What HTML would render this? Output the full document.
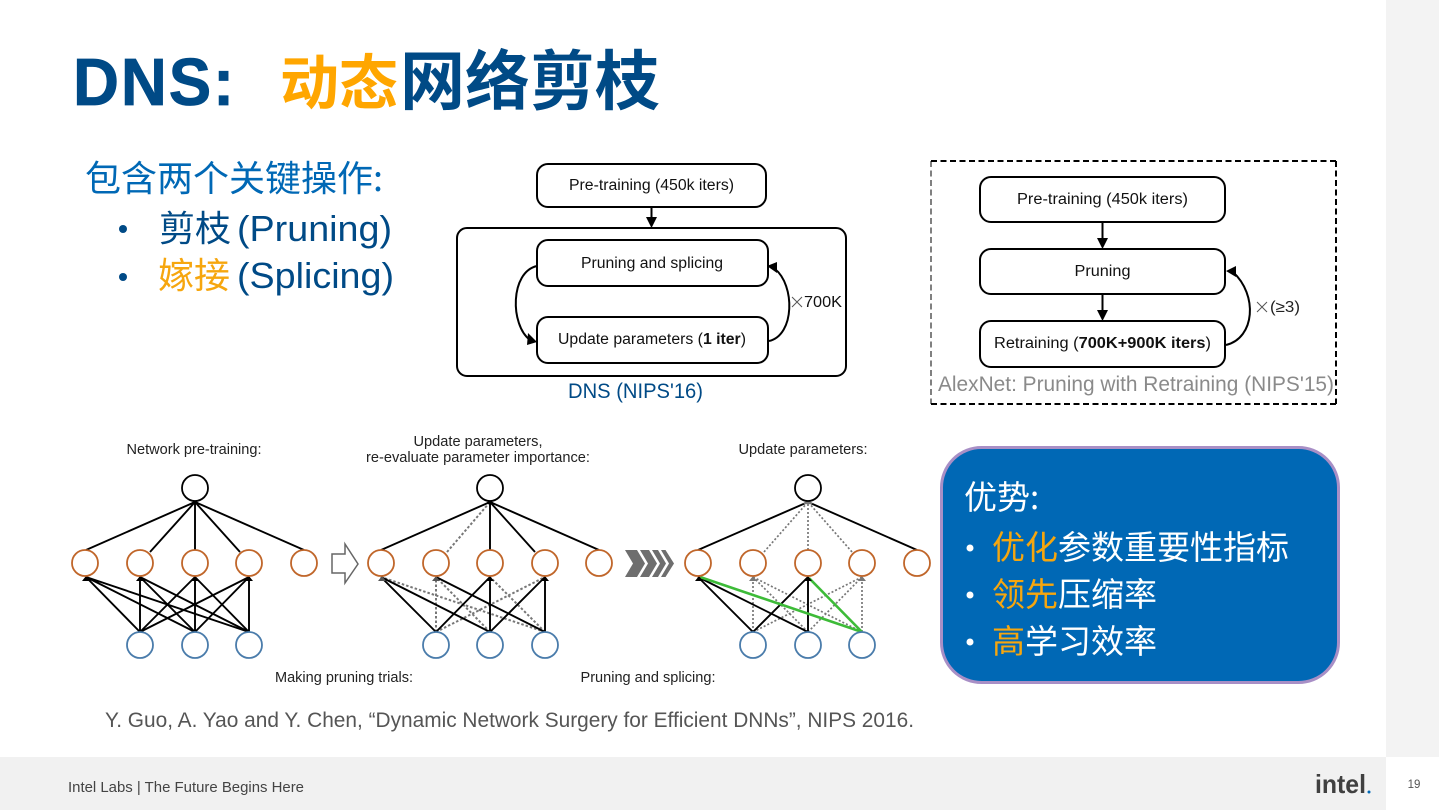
<!DOCTYPE html>
<html>
<head>
<meta charset="utf-8">
<style>
html,body{margin:0;padding:0;background:#fff;width:1440px;height:810px;overflow:hidden}
svg{display:block}
text{font-family:"Liberation Sans","Noto Sans CJK SC",sans-serif}
.cn{font-family:"Noto Sans CJK SC",sans-serif}
.d{fill:#111;font-size:15.500px}
.s{fill:#222;font-size:14.500px}
</style>
</head>
<body>
<svg width="1440" height="810" viewBox="0 0 1440 810" xmlns="http://www.w3.org/2000/svg">
<rect x="1386" y="0" width="53" height="757" fill="#f3f3f3"/>
<rect x="0" y="757" width="1386" height="53" fill="#f1f1f1"/>

<!-- Title -->
<text transform="translate(73 105) scale(.95 1)" font-size="67" font-weight="700" fill="#004a86" stroke="#004a86" stroke-width=".8" letter-spacing="2">DNS:</text>
<text x="280" y="104" font-size="59" font-weight="700" fill="#ffa600" class="cn">动态</text>
<text x="400" y="104" font-size="65" font-weight="700" fill="#004a86" class="cn">网络剪枝</text>

<!-- Left bullets -->
<text x="85" y="191" font-size="36" fill="#0068b5" class="cn">包含两个关键操作:</text>
<circle cx="123" cy="229" r="4" fill="#004a86"/>
<text x="159" y="241" font-size="36" fill="#004a86" class="cn">剪枝</text>
<text x="237" y="241" font-size="36" fill="#004a86" textLength="155" lengthAdjust="spacingAndGlyphs">(Pruning)</text>
<circle cx="123" cy="277" r="4" fill="#004a86"/>
<text x="158" y="288" font-size="36" fill="#f6a60e" class="cn">嫁接</text>
<text x="237" y="288" font-size="36" fill="#004a86" textLength="157" lengthAdjust="spacingAndGlyphs">(Splicing)</text>

<!-- DNS flow -->
<g fill="#fff" stroke="#000" stroke-width="2">
<rect x="537" y="164" width="229" height="43" rx="11"/>
<rect x="457" y="228" width="389" height="148" rx="10"/>
<rect x="537" y="240" width="231" height="46" rx="11"/>
<rect x="537" y="317" width="231" height="46" rx="11"/>
</g>
<path d="M651.500 207V219" stroke="#000" stroke-width="2"/>
<path d="M646 217H657L651.500 228z" fill="#000"/>
<path d="M537 266C510 272 510 325 530 340" fill="none" stroke="#000" stroke-width="2"/>
<path d="M528 333L537 342L527 345z" fill="#000"/>
<path d="M769 341C795 335 795 285 775 269" fill="none" stroke="#000" stroke-width="2"/>
<path d="M767 266L777 262L777 273z" fill="#000"/>
<text x="651.500" y="190" text-anchor="middle" class="d" textLength="165" lengthAdjust="spacingAndGlyphs">Pre-training (450k iters)</text>
<text x="652" y="268" text-anchor="middle" class="d" textLength="142" lengthAdjust="spacingAndGlyphs">Pruning and splicing</text>
<text x="558" y="344" class="d" textLength="188" lengthAdjust="spacingAndGlyphs">Update parameters (<tspan font-weight="700">1 iter</tspan>)</text>
<path d="M792 297L802 307M802 297L792 307" stroke="#555" stroke-width="1"/>
<text x="804" y="307" class="d" textLength="38" lengthAdjust="spacingAndGlyphs">700K</text>
<text x="568" y="398" font-size="21" fill="#004a86" textLength="135" lengthAdjust="spacingAndGlyphs">DNS (NIPS'16)</text>

<!-- AlexNet flow -->
<path d="M931 161H1336" fill="none" stroke="#000" stroke-width="2" stroke-dasharray="6 3.500"/>
<path d="M931 404H1336" fill="none" stroke="#000" stroke-width="2" stroke-dasharray="6 3.500"/>
<path d="M931 161V404" fill="none" stroke="#000" stroke-width="1" stroke-dasharray="6 3.500"/>
<path d="M1336 161V404" fill="none" stroke="#000" stroke-width="2" stroke-dasharray="6 3.500"/>
<g fill="#fff" stroke="#000" stroke-width="2">
<rect x="980" y="177" width="245" height="45" rx="11"/>
<rect x="980" y="249" width="245" height="45" rx="11"/>
<rect x="980" y="321" width="245" height="46" rx="11"/>
</g>
<path d="M1102.500 222V240M1102.500 294V312" stroke="#000" stroke-width="2"/>
<path d="M1097 238H1108L1102.500 249zM1097 310H1108L1102.500 321z" fill="#000"/>
<path d="M1226 345C1255 338 1258 295 1233 272" fill="none" stroke="#000" stroke-width="2"/>
<path d="M1226 271L1236 266L1236 277z" fill="#000"/>
<text x="1102.500" y="204" text-anchor="middle" class="d" textLength="171" lengthAdjust="spacingAndGlyphs">Pre-training (450k iters)</text>
<text x="1102.500" y="276" text-anchor="middle" class="d" textLength="56" lengthAdjust="spacingAndGlyphs">Pruning</text>
<text x="994" y="348" class="d" textLength="217" lengthAdjust="spacingAndGlyphs">Retraining (<tspan font-weight="700">700K+900K iters</tspan>)</text>
<path d="M1257 302L1267 312M1267 302L1257 312" stroke="#555" stroke-width="1"/>
<text x="1270" y="312" font-size="15.500" fill="#222" textLength="30" lengthAdjust="spacingAndGlyphs">(≥3)</text>
<text x="938" y="391" font-size="21" fill="#8a8a8a" textLength="396" lengthAdjust="spacingAndGlyphs">AlexNet: Pruning with Retraining (NIPS'15)</text>

<!-- Network labels -->
<text x="194" y="454" text-anchor="middle" class="s" textLength="135" lengthAdjust="spacingAndGlyphs">Network pre-training:</text>
<text x="478" y="446" text-anchor="middle" class="s" textLength="129" lengthAdjust="spacingAndGlyphs">Update parameters,</text>
<text x="478" y="462" text-anchor="middle" class="s" textLength="224" lengthAdjust="spacingAndGlyphs">re-evaluate parameter importance:</text>
<text x="803" y="454" text-anchor="middle" class="s" textLength="129" lengthAdjust="spacingAndGlyphs">Update parameters:</text>
<text x="344" y="682" text-anchor="middle" class="s" textLength="138" lengthAdjust="spacingAndGlyphs">Making pruning trials:</text>
<text x="648" y="682" text-anchor="middle" class="s" textLength="135" lengthAdjust="spacingAndGlyphs">Pruning and splicing:</text>

<!-- Net 1 -->
<g stroke="#000" stroke-width="1.900" fill="none">
<path d="M86 550L195 502M150 552L195 502M195 550V502M240 552L195 502M304 550L195 502"/>
<path d="M140 632L86 577M195 632L86 577M249 632L86 577"/>
<path d="M140 632V577M195 632L140 577M249 632L140 577"/>
<path d="M140 632L195 577M195 632V577M249 632L195 577"/>
<path d="M140 632L249 577M195 632L249 577M249 632V577"/>
</g>
<path d="M190 504L195 500L200 504zM82 581L86 576L90 581zM136 581L140 576L144 581zM191 581L195 576L199 581zM245 581L249 576L253 581z" fill="#000"/>

<!-- Net 2 -->
<g stroke="#777" stroke-width="2" stroke-dasharray="2.500 2" fill="none">
<path d="M447 552L490 502"/>
<path d="M545 632L381 577M436 632V577M490 632L436 577M545 632L490 577M436 632L545 577"/>
</g>
<g stroke="#000" stroke-width="1.900" fill="none">
<path d="M381 550L490 502M490 550V502M535 552L490 502M599 550L490 502"/>
<path d="M436 632L381 577M490 632L381 577"/>
<path d="M545 632L436 577"/>
<path d="M436 632L490 577M490 632V577"/>
<path d="M490 632L545 577M545 632V577"/>
</g>
<path d="M485 504L490 500L495 504zM486 581L490 576L494 581zM541 581L545 576L549 581z" fill="#000"/>
<path d="M378 581L382 576L386 581zM432 581L436 576L440 581z" fill="#555"/>

<!-- Net 3 -->
<g stroke="#777" stroke-width="1.700" stroke-dasharray="2 2" fill="none">
<path d="M764 552L808 502M808 550V502M852 552L808 502"/>
<path d="M753 632V577M808 632L753 577M862 632L753 577M753 632L862 577M808 632L862 577M862 632V577"/>
</g>
<g stroke="#000" stroke-width="1.900" fill="none">
<path d="M698 550L808 502M917 550L808 502"/>
<path d="M753 632L698 577M808 632L698 577"/>
<path d="M753 632L808 577M808 632V577"/>
</g>
<g stroke="#3dbb38" stroke-width="2.600" fill="none">
<path d="M862 632L700 577"/><path d="M862 632L809 578"/>
</g>
<path d="M695 581L699 576L703 581zM804 581L808 576L812 581z" fill="#000"/>
<path d="M803 504L808 500L813 504zM749 581L753 576L757 581zM858 581L862 576L866 581z" fill="#777"/>

<!-- Nodes -->
<g fill="#fff" stroke="#000" stroke-width="1.800">
<circle cx="195" cy="488" r="13"/><circle cx="490" cy="488" r="13"/><circle cx="808" cy="488" r="13"/>
</g>
<g fill="#fff" stroke="#c0662a" stroke-width="1.800">
<circle cx="85" cy="563" r="13"/><circle cx="140" cy="563" r="13"/><circle cx="195" cy="563" r="13"/><circle cx="249" cy="563" r="13"/><circle cx="304" cy="563" r="13"/>
<circle cx="381" cy="563" r="13"/><circle cx="436" cy="563" r="13"/><circle cx="490" cy="563" r="13"/><circle cx="545" cy="563" r="13"/><circle cx="599" cy="563" r="13"/>
<circle cx="698" cy="563" r="13"/><circle cx="753" cy="563" r="13"/><circle cx="808" cy="563" r="13"/><circle cx="862" cy="563" r="13"/><circle cx="917" cy="563" r="13"/>
</g>
<g fill="#fff" stroke="#4a7cab" stroke-width="1.800">
<circle cx="140" cy="645" r="13"/><circle cx="195" cy="645" r="13"/><circle cx="249" cy="645" r="13"/>
<circle cx="436" cy="645" r="13"/><circle cx="490" cy="645" r="13"/><circle cx="545" cy="645" r="13"/>
<circle cx="753" cy="645" r="13"/><circle cx="808" cy="645" r="13"/><circle cx="862" cy="645" r="13"/>
</g>

<!-- Arrows between networks -->
<path d="M332 554H345V544L358 564L345 583V573H332z" fill="#fff" stroke="#666" stroke-width="1.500"/>
<g fill="#6e6e6e">
<path d="M625 550H637L645 563.500L637 577H625L633 563.500z"/>
<path d="M640 550H649L657 563.500L649 577H640L648 563.500z"/>
<path d="M652 550H658L666 563.500L658 577H652L660 563.500z"/>
<path d="M661 550H665.500L674 563.500L665.500 577H661L669 563.500z"/>
</g>

<!-- Citation -->
<text x="105" y="727" font-size="21" fill="#555" textLength="809" lengthAdjust="spacingAndGlyphs">Y. Guo, A. Yao and Y. Chen, “Dynamic Network Surgery for Efficient DNNs”, NIPS 2016.</text>

<!-- Blue box -->
<rect x="941.500" y="447.500" width="397" height="235" rx="40" fill="#0068b5" stroke="#a88fc6" stroke-width="3"/>
<text x="964" y="509" font-size="33" fill="#fff" class="cn">优势:</text>
<circle cx="970" cy="548" r="3.500" fill="#fff"/>
<text x="992" y="559" font-size="33" fill="#f6a60e" class="cn">优化</text>
<text x="1058" y="559" font-size="33" fill="#fff" class="cn">参数重要性指标</text>
<circle cx="970" cy="595" r="3.500" fill="#fff"/>
<text x="992" y="606" font-size="33" fill="#f6a60e" class="cn">领先</text>
<text x="1058" y="606" font-size="33" fill="#fff" class="cn">压缩率</text>
<circle cx="970" cy="642" r="3.500" fill="#fff"/>
<text x="992" y="653" font-size="33" fill="#f6a60e" class="cn">高</text>
<text x="1025" y="653" font-size="33" fill="#fff" class="cn">学习效率</text>

<!-- Footer -->
<text x="68" y="792" font-size="15" fill="#444" textLength="236" lengthAdjust="spacingAndGlyphs">Intel Labs | The Future Begins Here</text>
<text x="1315" y="793" font-size="26" font-weight="700" fill="#404040" textLength="51" lengthAdjust="spacingAndGlyphs">intel</text>
<circle cx="1369" cy="792" r="1.500" fill="#0068b5"/>
<text x="1414" y="788" font-size="11.500" fill="#555" text-anchor="middle">19</text>
</svg>
</body>
</html>
